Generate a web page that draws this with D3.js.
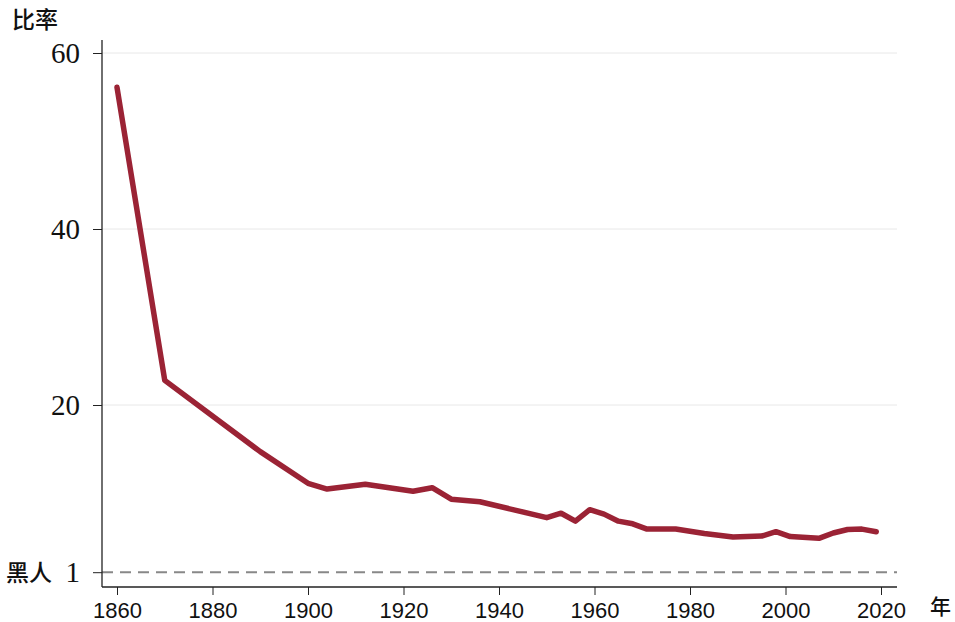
<!DOCTYPE html>
<html>
<head>
<meta charset="utf-8">
<script src="https://cdn.jsdelivr.net/npm/d3@7"></script>
<style>
  body { margin: 0; background: #fff; }
  svg { display: block; }
</style>
</head>
<body>
<div id="chart"></div>
<script>
const width = 955;
const height = 622;

// ratio over time
const years = [1860, 1870, 1890, 1900, 1904, 1912, 1922, 1926, 1930, 1936, 1950, 1953, 1956, 1959, 1962, 1965, 1968, 1971, 1977, 1983, 1989, 1995, 1998, 2001, 2007, 2010, 2013, 2016, 2019];
const ratios = [56.1, 22.8, 14.7, 11.1, 10.45, 11.0, 10.2, 10.6, 9.3, 9.0, 7.2, 7.7, 6.8, 8.1, 7.6, 6.8, 6.5, 5.9, 5.9, 5.4, 5.0, 5.1, 5.6, 5.05, 4.85, 5.45, 5.85, 5.9, 5.6];

const xTicks = [1860, 1880, 1900, 1920, 1940, 1960, 1980, 2000, 2020];
const yTicks = [20, 40, 60];
const baseline = 1;

const svg = d3
  .select("#chart")
  .append("svg")
  .attr("width", width)
  .attr("height", height);

const x = d3.scaleLinear().domain([1860, 2020]).range([117, 881]);
const y = d3.scaleLinear().domain([0, 60]).range([581, 53]);

const plotLeft = 102;
const plotRight = 897;
const plotTop = 40;
const plotBottom = 587;

//-------grid-------//
svg
  .append("g")
  .selectAll("line")
  .data(yTicks)
  .join("line")
  .attr("x1", plotLeft)
  .attr("x2", plotRight)
  .attr("y1", (d) => y(d))
  .attr("y2", (d) => y(d))
  .attr("stroke", "#e8e8e8")
  .attr("stroke-width", 1);

//-------baseline-------//
svg
  .append("line")
  .attr("x1", plotLeft)
  .attr("x2", plotRight)
  .attr("y1", y(baseline))
  .attr("y2", y(baseline))
  .attr("stroke", "#888")
  .attr("stroke-width", 2)
  .attr("stroke-dasharray", "11,7");

//-------axes-------//
const yAxis = svg
  .append("g")
  .attr("transform", `translate(${plotLeft},0)`)
  .call(
    d3.axisLeft(y).tickValues(yTicks.concat([baseline])).tickSize(9).tickFormat(d3.format("d"))
  );
yAxis.select(".domain").remove();
yAxis.selectAll(".tick line").attr("stroke", "#222");
yAxis
  .selectAll(".tick text")
  .attr("x", -22)
  .attr("font-family", "'Liberation Serif', 'DejaVu Serif', serif")
  .attr("font-size", 29)
  .attr("fill", "#111");

const xAxis = svg
  .append("g")
  .attr("transform", `translate(0,${plotBottom})`)
  .call(d3.axisBottom(x).tickValues(xTicks).tickSize(8).tickFormat(d3.format("d")));
xAxis.select(".domain").remove();
xAxis.selectAll(".tick line").attr("stroke", "#222");
xAxis
  .selectAll(".tick text")
  .attr("y", 15)
  .attr("font-family", "'Liberation Sans', Arial, sans-serif")
  .attr("font-size", 22)
  .attr("fill", "#111");

svg
  .append("line")
  .attr("x1", plotLeft)
  .attr("x2", plotLeft)
  .attr("y1", plotTop)
  .attr("y2", plotBottom)
  .attr("stroke", "#222")
  .attr("stroke-width", 1.3);
svg
  .append("line")
  .attr("x1", plotLeft)
  .attr("x2", plotRight)
  .attr("y1", plotBottom)
  .attr("y2", plotBottom)
  .attr("stroke", "#222")
  .attr("stroke-width", 1.3);

//-------line-------//
const data = years.map((yr, i) => ({ year: yr, value: ratios[i] }));
svg
  .append("path")
  .datum(data)
  .attr("fill", "none")
  .attr("stroke", "#9b2335")
  .attr("stroke-width", 5.5)
  .attr("stroke-linejoin", "round")
  .attr("stroke-linecap", "round")
  .attr(
    "d",
    d3
      .line()
      .x((d) => x(d.year))
      .y((d) => y(d.value))
  );

//-------labels-------//
const cjk = "'Noto Sans CJK SC', 'Noto Sans CJK JP', sans-serif";
svg
  .append("text")
  .attr("x", 12)
  .attr("y", 28)
  .attr("font-family", cjk)
  .attr("font-size", 23)
  .attr("font-weight", 500)
  .attr("fill", "#111")
  .text("比率");
svg
  .append("text")
  .attr("x", 6)
  .attr("y", y(baseline) + 9)
  .attr("font-family", cjk)
  .attr("font-size", 23)
  .attr("font-weight", 500)
  .attr("fill", "#111")
  .text("黑人");
svg
  .append("text")
  .attr("x", 930)
  .attr("y", 614)
  .attr("font-family", cjk)
  .attr("font-size", 21)
  .attr("font-weight", 500)
  .attr("fill", "#111")
  .text("年");
</script>
</body>
</html>
